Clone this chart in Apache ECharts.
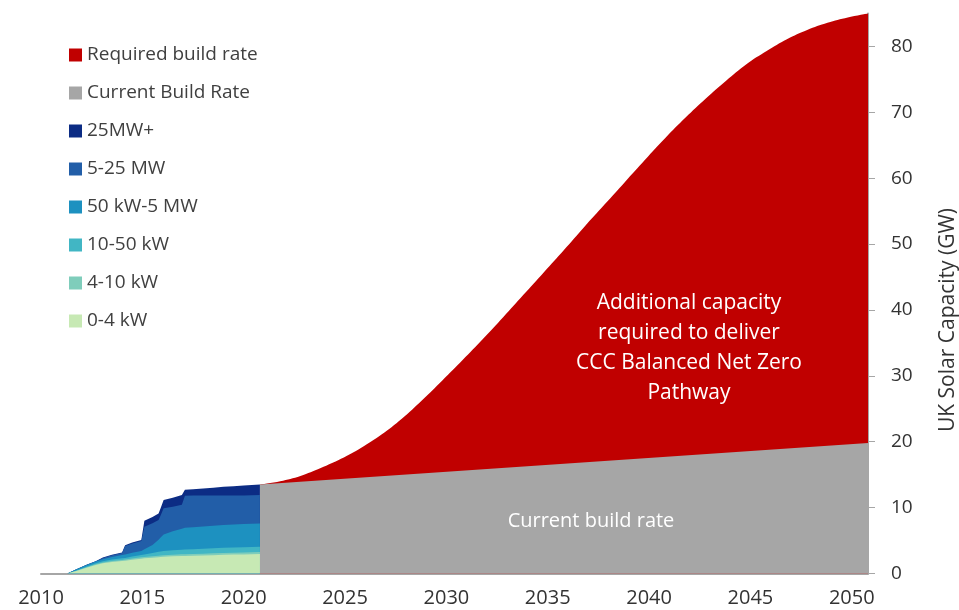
<!DOCTYPE html>
<html><head><meta charset="utf-8">
<script src="https://cdn.jsdelivr.net/npm/echarts@6/dist/echarts.min.js"></script>
<style>html,body{margin:0;padding:0;background:#fff}#c{width:959px;height:610px}</style>
</head><body><div id="c"></div>
<script>
// Historical deployment by size band (GW, individual band values)
const histYears = [2011.3, 2011.75, 2012.25, 2012.7, 2013.05, 2013.5, 2014.0, 2014.15, 2014.5, 2014.95, 2015.1, 2015.5, 2015.8, 2015.9, 2016.05, 2016.5, 2016.95, 2017.1, 2017.5, 2018.0, 2018.5, 2019.0, 2019.5, 2020.0, 2020.8];
const kw0to4    = [0, 0.38, 0.88, 1.3, 1.55, 1.75, 1.9, 1.95, 2.1, 2.25, 2.3, 2.4, 2.48, 2.5, 2.53, 2.6, 2.65, 2.67, 2.7, 2.74, 2.78, 2.83, 2.87, 2.9, 2.95];
const kw4to10   = [0, 0.03, 0.07, 0.1, 0.12, 0.14, 0.16, 0.16, 0.18, 0.2, 0.2, 0.22, 0.23, 0.23, 0.23, 0.25, 0.26, 0.26, 0.27, 0.27, 0.28, 0.28, 0.29, 0.29, 0.3];
const kw10to50  = [0, 0.05, 0.12, 0.17, 0.2, 0.22, 0.24, 0.25, 0.3, 0.35, 0.38, 0.5, 0.6, 0.62, 0.65, 0.68, 0.7, 0.71, 0.72, 0.74, 0.76, 0.78, 0.79, 0.8, 0.82];
const kw50to5mw = [0, 0.2, 0.22, 0.25, 0.3, 0.4, 0.5, 0.52, 0.56, 0.6, 0.8, 1.2, 1.8, 2.1, 2.5, 2.9, 3.2, 3.3, 3.33, 3.38, 3.42, 3.46, 3.49, 3.51, 3.53];
const mw5to25   = [0, 0, 0.02, 0.05, 0.2, 0.25, 0.3, 1.3, 1.43, 1.55, 3.42, 3.3, 3.0, 3.35, 3.99, 3.72, 3.64, 4.86, 4.83, 4.72, 4.61, 4.5, 4.41, 4.35, 4.3];
const mw25plus  = [0, 0, 0, 0, 0.05, 0.08, 0.1, 0.12, 0.13, 0.15, 0.9, 0.95, 1.0, 1.1, 1.25, 1.35, 1.45, 0.9, 0.95, 1.05, 1.15, 1.3, 1.4, 1.5, 1.6];

// Required pathway (total GW)
const reqYears  = [2020.8, 2021.8, 2022.8, 2023.8, 2024.8, 2025.8, 2026.8, 2027.8, 2028.8, 2029.8, 2030.8, 2031.8, 2032.8, 2033.8, 2034.8, 2035.8, 2036.8, 2037.8, 2038.8, 2039.8, 2040.8, 2041.8, 2042.8, 2043.8, 2044.8, 2045.8, 2046.8, 2047.8, 2048.8, 2049.8, 2050.8];
const reqValues = [13.5, 14.0, 14.8, 16.0, 17.4, 19.1, 21.1, 23.5, 26.3, 29.3, 32.4, 35.6, 38.9, 42.3, 45.7, 49.1, 52.6, 56.0, 59.4, 62.8, 66.1, 69.2, 72.1, 74.8, 77.3, 79.3, 81.1, 82.5, 83.6, 84.4, 85.0];

// Current build rate (total GW)
const curYears  = [2020.8, 2050.8];
const curValues = [13.5, 19.8];

const yTicks = [0, 10, 20, 30, 40, 50, 60, 70, 80];
const xTicks = [2010, 2015, 2020, 2025, 2030, 2035, 2040, 2045, 2050];

const bands = [
  {name: '0-4 kW', vals: kw0to4, color: '#c7e9b4'},
  {name: '4-10 kW', vals: kw4to10, color: '#7fcdbb'},
  {name: '10-50 kW', vals: kw10to50, color: '#41b6c4'},
  {name: '50 kW-5 MW', vals: kw50to5mw, color: '#1d91c0'},
  {name: '5-25 MW', vals: mw5to25, color: '#225ea8'},
  {name: '25MW+', vals: mw25plus, color: '#0c2c84'}
];
// cumulative tops
const cum = [];
bands.forEach((b, i) => {
  cum.push(b.vals.map((v, j) => v + (i > 0 ? cum[i - 1][j] : 0)));
});

const zip = (xs, ys) => xs.map((x, i) => [x, ys[i]]);
const areaSeries = (name, data, color, smooth) => ({
  name, type: 'line', data, color, smooth: smooth || false, symbol: 'none',
  lineStyle: {width: 0, color}, itemStyle: {color},
  areaStyle: {color, opacity: 1}, silent: true
});

const series = [
  areaSeries('Required build rate', zip(reqYears, reqValues), '#c00000', 0.4),
  areaSeries('Current Build Rate', zip(curYears, curValues), '#a6a6a6')
];
for (let i = bands.length - 1; i >= 0; i--) {
  series.push(areaSeries(bands[i].name, zip(histYears, cum[i]), bands[i].color));
}

const FONT = '"Open Sans"';
const chart = echarts.init(document.getElementById('c'));
chart.setOption({
  animation: false,
  textStyle: {fontFamily: FONT},
  grid: {left: 41, right: 91, top: 13.5, bottom: 36.5, containLabel: false},
  legend: {
    orient: 'vertical', left: 64, top: 40, icon: 'rect', itemWidth: 13, itemHeight: 13, itemGap: 18,
    data: ['Required build rate', 'Current Build Rate', '25MW+', '5-25 MW', '50 kW-5 MW', '10-50 kW', '4-10 kW', '0-4 kW'],
    textStyle: {fontFamily: FONT, fontSize: 19, lineHeight: 20, color: '#404040'},
    selectedMode: false
  },
  xAxis: {
    type: 'value', min: 2010, max: 2050.8, interval: 5,
    axisLine: {show: true, onZero: false, lineStyle: {color: '#a6a6a6', width: 2}},
    axisTick: {show: false}, splitLine: {show: false},
    axisLabel: {fontFamily: FONT, fontSize: 20, color: '#333', margin: 15, showMaxLabel: false,
      formatter: v => xTicks.includes(v) ? String(v) : ''}
  },
  yAxis: {
    type: 'value', position: 'right', min: 0, max: 85, interval: 10,
    axisLine: {show: true, lineStyle: {color: '#a6a6a6', width: 2}},
    axisTick: {show: true, inside: false, length: 7, lineStyle: {color: '#a6a6a6', width: 1}},
    splitLine: {show: false},
    axisLabel: {fontFamily: FONT, fontSize: 19, color: '#333', margin: 23, showMaxLabel: false,
      formatter: v => yTicks.includes(v) ? String(v) : ''}
  },
  graphic: [
    {type: 'text', x: 689, y: 348, z: 100, silent: true,
      style: {text: 'Additional capacity\nrequired to deliver\nCCC Balanced Net Zero\nPathway', fill: '#fff',
        font: '21px ' + FONT, align: 'center', verticalAlign: 'middle', lineHeight: 30}},
    {type: 'text', x: 591, y: 521, z: 100, silent: true,
      style: {text: 'Current build rate', fill: '#fff', font: '20px ' + FONT, align: 'center', verticalAlign: 'middle'}},
    {type: 'text', x: 948, y: 320, z: 100, rotation: Math.PI / 2, silent: true,
      style: {text: 'UK Solar Capacity (GW)', fill: '#333', font: '21px ' + FONT, align: 'center', verticalAlign: 'middle'}}
  ],
  series
});
</script>
</body></html>
